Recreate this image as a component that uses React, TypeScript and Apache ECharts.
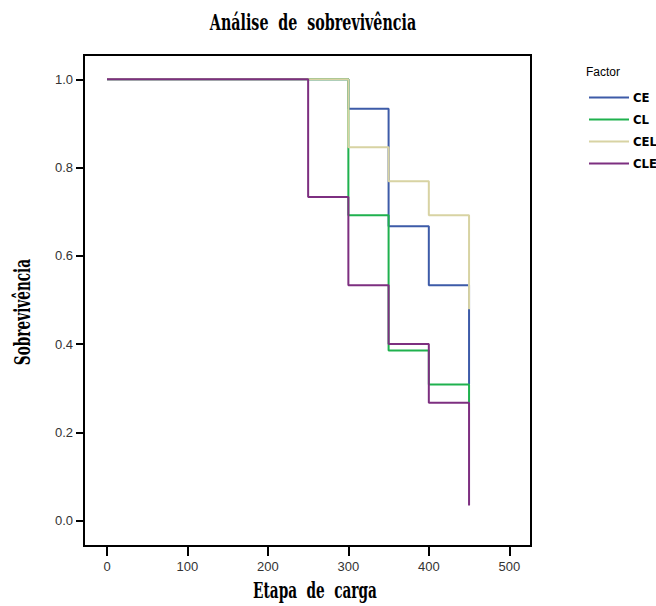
import React, { useEffect, useRef } from "react";
import * as echarts from "echarts";

const times = [0, 250, 300, 350, 400, 450];
const seriesNames = ["CE", "CL", "CEL", "CLE"];
const valuesCE = [1, 1, 0.933, 0.667, 0.533, 0.308];
const valuesCL = [1, 1, 0.692, 0.385, 0.308, 0.267];
const valuesCEL = [1, 1, 0.846, 0.769, 0.692, 0.479];
const valuesCLE = [1, 0.733, 0.533, 0.4, 0.267, 0.034];
const xTicks = [0, 100, 200, 300, 400, 500];
const yTicks = [0, 0.2, 0.4, 0.6, 0.8, 1.0];
const colors = ["#3d5ba8", "#1fb14e", "#d8d3a3", "#7d2f80"];

export default function App() {
  const ref = useRef<HTMLDivElement>(null);
  useEffect(() => {
    document.body.style.margin = "0";
    const chart = echarts.init(ref.current!, null, { renderer: "svg" });
    const all = [valuesCE, valuesCL, valuesCEL, valuesCLE];
    const tickFont = { fontFamily: "Liberation Sans, Arial, sans-serif", fontSize: 13, color: "#333" };
    chart.setOption({
      animation: false,
      backgroundColor: "#fff",
      grid: {
        left: 84,
        top: 55,
        width: 447,
        height: 491,
        show: true,
        borderColor: "#000",
        borderWidth: 2,
        backgroundColor: "transparent",
      },
      xAxis: {
        type: "value",
        min: -28.6,
        max: 527,
        axisLine: { show: false, onZero: false },
        splitLine: { show: false },
        axisTick: { show: true, inside: false, length: 10, customValues: xTicks, lineStyle: { color: "#000", width: 2 } },
        axisLabel: { customValues: xTicks, margin: 14, ...tickFont },
      },
      yAxis: {
        type: "value",
        min: -0.0578,
        max: 1.055,
        axisLine: { show: false, onZero: false },
        splitLine: { show: false },
        axisTick: { show: true, inside: false, length: 8, customValues: yTicks, lineStyle: { color: "#000", width: 2 } },
        axisLabel: {
          customValues: yTicks,
          margin: 11,
          formatter: (v: number) => v.toFixed(1),
          ...tickFont,
        },
      },
      legend: {
        data: seriesNames,
        orient: "vertical",
        left: 584,
        top: 86,
        icon: "rect",
        itemWidth: 40,
        itemHeight: 2,
        itemGap: 9,
        textStyle: {
          fontFamily: "Liberation Sans Narrow, DejaVu Sans Condensed, Liberation Sans, sans-serif",
          fontWeight: "bold",
          fontSize: 13,
          color: "#000",
          padding: [0, 0, 0, -1],
        },
      },
      graphic: [
        {
          type: "text",
          x: 313,
          y: 22,
          scaleX: 0.62,
          style: {
            text: "Análise  de  sobrevivência",
            fontFamily: "DejaVu Serif, serif",
            fontWeight: "bold",
            fontSize: 23,
            fill: "#000",
            align: "center",
            verticalAlign: "middle",
          },
        },
        {
          type: "text",
          x: 315,
          y: 590,
          scaleX: 0.62,
          style: {
            text: "Etapa  de  carga",
            fontFamily: "DejaVu Serif, serif",
            fontWeight: "bold",
            fontSize: 22,
            fill: "#000",
            align: "center",
            verticalAlign: "middle",
          },
        },
        {
          type: "text",
          x: 22,
          y: 312,
          rotation: Math.PI / 2,
          scaleX: 0.62,
          style: {
            text: "Sobrevivência",
            fontFamily: "DejaVu Serif, serif",
            fontWeight: "bold",
            fontSize: 22,
            fill: "#000",
            align: "center",
            verticalAlign: "middle",
          },
        },
        {
          type: "text",
          x: 586,
          y: 72,
          style: {
            text: "Factor",
            fontFamily: "Liberation Sans, Arial, sans-serif",
            fontSize: 12,
            fill: "#000",
            align: "left",
            verticalAlign: "middle",
          },
        },
      ],
      series: seriesNames.map((name, i) => ({
        name,
        type: "line",
        step: "end",
        symbol: "none",
        data: times.map((t, j) => [t, all[i][j]]),
        lineStyle: { color: colors[i], width: 2 },
        itemStyle: { color: colors[i] },
        z: 2 + i,
      })),
    });
    return () => chart.dispose();
  }, []);
  return <div ref={ref} style={{ width: 656, height: 606 }} />;
}
